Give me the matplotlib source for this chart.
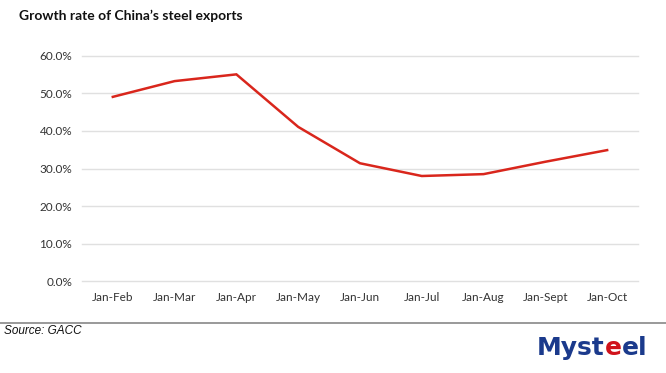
import matplotlib.pyplot as plt
import matplotlib.ticker as mticker

periods = ["Jan-Feb", "Jan-Mar", "Jan-Apr", "Jan-May", "Jan-Jun",
           "Jan-Jul", "Jan-Aug", "Jan-Sept", "Jan-Oct"]
growth = [49.1, 53.3, 55.1, 41.1, 31.4, 28.0, 28.5, 31.8, 34.9]
yticks = [0, 10, 20, 30, 40, 50, 60]

fig = plt.figure(figsize=(6.66, 3.73), dpi=100)
ax = fig.add_axes([0.123, 0.2466, 0.835, 0.6033])

x = range(len(periods))
ax.plot(x, growth, color="#d9261c", linewidth=1.8, solid_joinstyle="miter")

ax.set_xlim(-0.5, len(periods) - 0.5)
ax.set_ylim(0, 60)
ax.set_yticks(yticks)
ax.yaxis.set_major_formatter(mticker.FuncFormatter(lambda v, p: f"{v:.1f}%"))
ax.set_xticks(list(x))
ax.set_xticklabels(periods)
ax.grid(axis="y", color="#e0e0e0", linewidth=1)
for gl in ax.yaxis.get_gridlines():
    gl.set_clip_on(False)
ax.set_axisbelow(True)
for s in ax.spines.values():
    s.set_visible(False)
ax.tick_params(length=0, labelsize=8.5, labelcolor="#333333", pad=8)
ax.tick_params(axis="y", pad=7)
for lbl in ax.get_xticklabels() + ax.get_yticklabels():
    lbl.set_family("Lato")

fig.text(0.028, 0.958, "Growth rate of China\u2019s steel exports", family="Lato",
         fontweight="bold", fontsize=10, color="#111111", va="center")

# bottom separator and source
fig.add_artist(plt.Line2D([0, 1], [1 - 323 / 373] * 2, color="#888888", linewidth=1.2,
                          transform=fig.transFigure))
fig.text(0.006, 1 - 331 / 373, "Source: GACC", family="Liberation Sans",
         style="italic", fontsize=8.5, color="#111111", va="center")

# logo as text
logo_y = 1 - 348 / 373
navy = "#1b3a8c"
t = fig.text(0.806, logo_y, "Myst", family="DejaVu Sans", fontweight="bold",
             fontsize=18, color=navy, va="center")
fig.canvas.draw()
x1 = t.get_window_extent().x1 / fig.bbox.width
t2 = fig.text(x1, logo_y, "e", family="DejaVu Sans", fontweight="bold",
              fontsize=18, color="#d0121b", va="center")
fig.canvas.draw()
x2 = t2.get_window_extent().x1 / fig.bbox.width
fig.text(x2, logo_y, "el", family="DejaVu Sans", fontweight="bold",
         fontsize=18, color=navy, va="center")

fig.savefig("out.png", dpi=100)
